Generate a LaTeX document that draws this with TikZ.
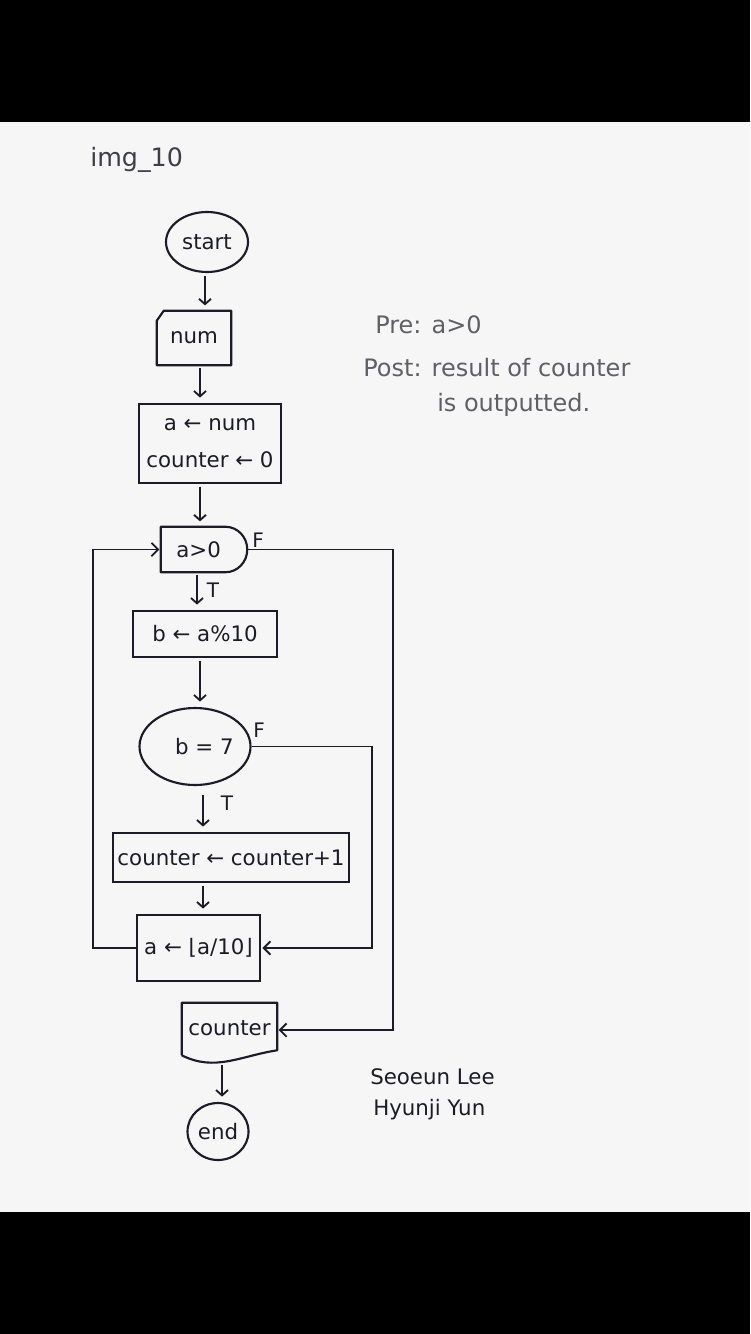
\documentclass[tikz,border=0pt]{standalone}
\usepackage{fontspec}
\setmainfont{DejaVu Sans}
\usetikzlibrary{shapes.geometric,arrows.meta,calc}
\definecolor{ink}{RGB}{28,28,40}
\definecolor{pencil}{RGB}{95,95,102}
\definecolor{paper}{RGB}{246,246,246}
\begin{document}
\begin{tikzpicture}[x=0.75pt,y=-0.75pt,
  shp/.style={draw=ink, line width=1.6pt},
  txt/.style={text=ink, font=\fontsize{16}{28}\selectfont},
  term/.style={shp, txt, ellipse, inner sep=0pt},
  proc/.style={shp, txt, rectangle, inner sep=0pt},
  bare/.style={txt, rectangle, inner sep=0pt},
  outline/.style={draw=ink, line width=1.6pt, line join=round},
  flow/.style={draw=ink, line width=1.4pt, -{Straight Barb[length=4pt,width=9pt]}, shorten >=4pt, shorten <=2pt},
  loopline/.style={draw=ink, line width=1.4pt, -{Straight Barb[length=5pt,width=10pt]}, shorten >=1pt},
  note/.style={text=pencil, font=\fontsize{18}{22}\selectfont, anchor=west, inner sep=0pt},
  sign/.style={text=ink, font=\fontsize{16}{20}\selectfont, anchor=west, inner sep=0pt},
  lbl/.style={text=ink, font=\fontsize{15}{17}\selectfont, inner sep=0pt}]
\useasboundingbox (0,0) rectangle (750,1334);
\fill[black] (0,0) rectangle (750,1334);
\fill[paper] (0,122) rectangle (750,1212);

% column coordinates for vertical arrows
\coordinate (c197) at (197,0);
\coordinate (c200) at (200,0);
\coordinate (c203) at (203,0);
\coordinate (c205) at (205,0);
\coordinate (c222) at (222,0);
\coordinate (xL) at (93,0);
\coordinate (xR1) at (393,0);
\coordinate (xR2) at (372,0);

% title
\node[sign, text=ink!85, font=\fontsize{19}{22}\selectfont] (title) at (90,160) {img\_10};

% nodes
\node[term, minimum width=61.5pt, minimum height=45pt] (start) at (207,242) {start};
\node[bare, minimum width=55.5pt, minimum height=40.5pt] (num) at (194,338) {num};
\draw[outline] ($(num.north west)+(0,10)$) -- ($(num.north west)+(7,0)$) -- (num.north east) -- (num.south east) -- (num.south west) -- cycle;
\node[proc, minimum width=106.5pt, minimum height=59.25pt, align=center] (init) at (210,443.5) {a ← num\\counter ← 0};
\node[bare, minimum width=64.5pt, minimum height=33.75pt] (cond1) at (204,549.5) {\hspace*{-8pt}a>0};
\draw[outline] (cond1.north west) -- ($(cond1.north east)+(-22,0)$) to[out=0,in=90] (cond1.east) to[out=-90,in=0] ($(cond1.south east)+(-22,0)$) -- (cond1.south west) -- cycle;
\node[proc, minimum width=108pt, minimum height=34.5pt] (mod) at (205,634) {b ← a\%10};
\node[term, minimum width=83.25pt, minimum height=57.75pt] (cond2) at (195,746.5) {\hspace*{14pt}b = 7};
\node[proc, minimum width=177pt, minimum height=36.75pt] (inc) at (231,857.5) {counter ← counter+1};
\node[proc, minimum width=92.25pt, minimum height=49.5pt] (div) at (198.5,948) {a ← ⌊a/10⌋};
\node[bare, minimum width=71.25pt, minimum height=40.5pt] (out) at (229.5,1030) {\raisebox{3pt}{counter}};
\draw[outline] ($(out.south west)+(0,-2)$) -- (out.north west) -- (out.north east) -- ($(out.south east)+(0,-7)$) .. controls (240,1056) and (215,1072) .. ($(out.south west)+(0,-2)$);
\node[term, minimum width=45.75pt, minimum height=42.75pt] (end) at (218,1131.5) {end};

% main flow
\draw[flow] (start.south -| c205) -- (num.north -| c205);
\draw[flow] (num.south -| c200) -- (init.north -| c200);
\draw[flow] (init.south -| c200) -- (cond1.north -| c200);
\draw[flow] (cond1.south -| c197) -- (mod.north -| c197);
\draw[flow] (mod.south -| c200) -- (cond2.north -| c200);
\draw[flow, shorten <=7pt] (cond2.south -| c203) -- (inc.north -| c203);
\draw[flow] (inc.south -| c203) -- (div.north -| c203);
\draw[flow, shorten <=6pt] (out.south -| c222) -- (end.north -| c222);

% loops
\draw[loopline] (cond1.east) -- (cond1.east -| xR1) |- (out.east);
\draw[loopline] (cond2.east) -- (cond2.east -| xR2) |- (div.east);
\draw[loopline] (div.west) -- (div.west -| xL) |- (cond1.west);

% branch labels
\node[lbl] (F1) at (258,540) {F};
\node[lbl] (T1) at (213,590) {T};
\node[lbl] (F2) at (259,730) {F};
\node[lbl] (T2) at (227,803) {T};

% notes
\node[note] (pre) at (375,325) {Pre: a>0};
\node[note] (post) at (363,368) {Post: result of counter};
\node[note] (post2) at (437,405) {is outputted.};
\node[sign] (name1) at (370,1077) {Seoeun Lee};
\node[sign] (name2) at (373,1110) {Hyunji Yun};
\end{tikzpicture}
\end{document}
